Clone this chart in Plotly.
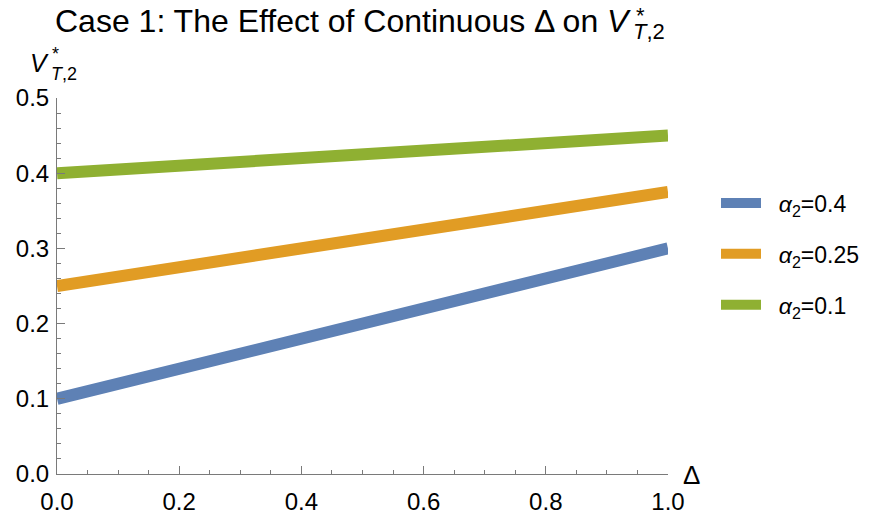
import plotly.graph_objects as go

# ---- data ----
delta = [0.0, 0.5, 1.0]
v_alpha_04 = [0.10, 0.20, 0.30]
v_alpha_025 = [0.25, 0.3125, 0.375]
v_alpha_01 = [0.40, 0.425, 0.45]
series_names = ["&nbsp;&nbsp;<i>α</i><sub>2</sub>=0.4", "&nbsp;&nbsp;<i>α</i><sub>2</sub>=0.25",
                "&nbsp;&nbsp;<i>α</i><sub>2</sub>=0.1"]
colors = ["#5E81B5", "#E19C24", "#8FB032"]
x_ticks = [0.0, 0.2, 0.4, 0.6, 0.8, 1.0]
x_tick_labels = ["0.0", "0.2", "0.4", "0.6", "0.8", "1.0"]
y_ticks = [0.0, 0.1, 0.2, 0.3, 0.4, 0.5]
y_tick_labels = ["0.0", "0.1", "0.2", "0.3", "0.4", "0.5"]

W, H = 877, 514
L, R, T, B = 57, 668, 98, 474   # plot area in reference pixels
OFF = 8                          # page body margin offset
FONT = "Liberation Sans, Arial, sans-serif"

def px(x):
    return (x - L) / (R - L)

def py(y):
    return (B - y) / (B - T)

fig = go.Figure()
for i, (ys, name, c) in enumerate(zip([v_alpha_04, v_alpha_025, v_alpha_01], series_names, colors)):
    fig.add_trace(go.Scatter(x=delta, y=ys, mode="lines", name=name,
                             line=dict(color=c, width=12), legendgroup=str(i)))

axis_common = dict(showgrid=False, zeroline=False, showline=True, linecolor="#7a7a7a",
                   linewidth=1, ticks="inside", tickcolor="#7a7a7a", tickwidth=1,
                   ticklen=8, tickfont=dict(family=FONT, size=24, color="black"),
                   mirror=False, layer="above traces", automargin=False)

fig.update_xaxes(range=[0, 1], tickvals=x_ticks, ticktext=x_tick_labels, ticklabelstandoff=6,
                 minor=dict(dtick=0.05, ticks="inside", ticklen=4, tickcolor="#7a7a7a", showgrid=False),
                 **axis_common)
fig.update_yaxes(range=[0, 0.5], tickvals=y_ticks, ticktext=y_tick_labels, ticklabelstandoff=2,
                 minor=dict(dtick=0.02, ticks="inside", ticklen=4, tickcolor="#7a7a7a", showgrid=False),
                 **axis_common)

ann = []
# title pieces
ann.append(dict(text="Case 1: The Effect of Continuous Δ on <i>V</i>", x=px(633), y=py(21),
                xanchor="right", yanchor="middle", font=dict(family=FONT, size=32, color="black")))
ann.append(dict(text="*", x=px(634), y=py(15), xanchor="left", yanchor="middle",
                font=dict(family=FONT, size=22, color="black")))
ann.append(dict(text="<i>T</i>,2", x=px(631), y=py(31), xanchor="left", yanchor="middle",
                font=dict(family=FONT, size=22, color="black")))
# y label
ann.append(dict(text="<i>V</i>", x=px(51), y=py(63), xanchor="right", yanchor="middle",
                font=dict(family=FONT, size=25, color="black")))
ann.append(dict(text="*", x=px(50), y=py(54), xanchor="left", yanchor="middle",
                font=dict(family=FONT, size=18, color="black")))
ann.append(dict(text="<i>T</i>,2", x=px(49), y=py(74), xanchor="left", yanchor="middle",
                font=dict(family=FONT, size=18, color="black")))
# x label
ann.append(dict(text="Δ", x=px(681), y=py(475), xanchor="left", yanchor="middle",
                font=dict(family=FONT, size=26, color="black")))
for a in ann:
    a.update(xref="paper", yref="paper", showarrow=False)

fig.update_layout(
    width=W, height=H,
    margin=dict(l=L - OFF, r=W - R + OFF, t=T - OFF, b=H - B + OFF, pad=0),
    paper_bgcolor="white", plot_bgcolor="white",
    showlegend=True,
    legend=dict(x=px(716), y=py(254), xanchor="left", yanchor="middle",
                font=dict(family=FONT, size=23, color="black"),
                itemwidth=40, tracegroupgap=18, bgcolor="rgba(0,0,0,0)"),
    annotations=ann,
)

fig.write_html("out.html")
